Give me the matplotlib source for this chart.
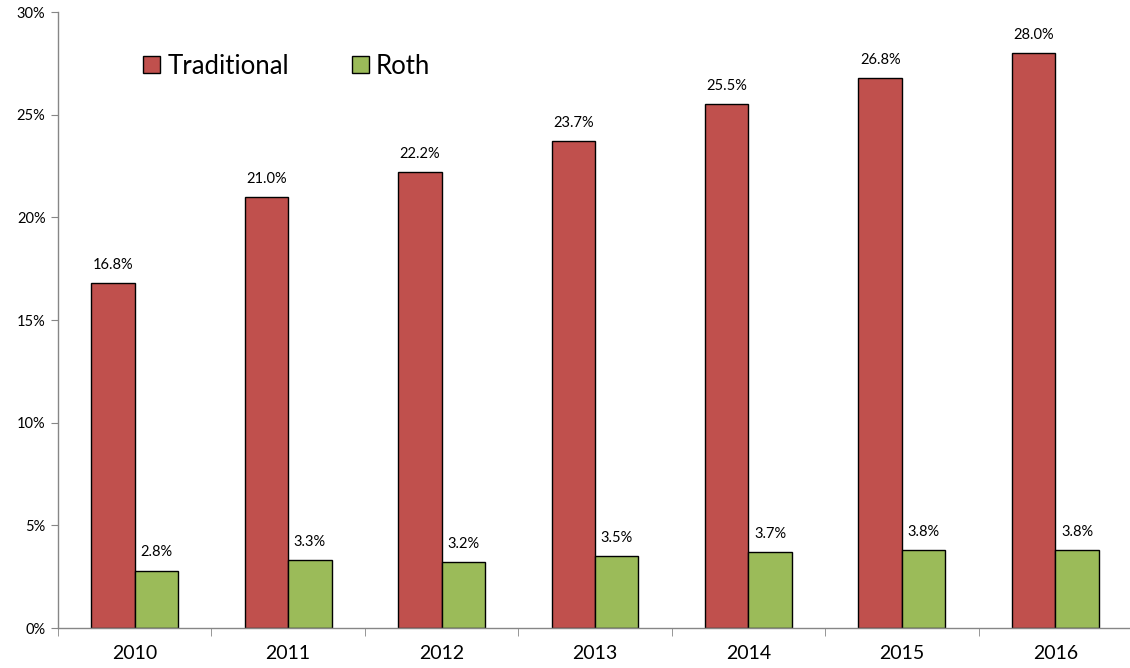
import numpy as np
import matplotlib.pyplot as plt
from matplotlib.ticker import FuncFormatter, FixedLocator

years = ["2010", "2011", "2012", "2013", "2014", "2015", "2016"]
traditional = [16.8, 21.0, 22.2, 23.7, 25.5, 26.8, 28.0]
roth = [2.8, 3.3, 3.2, 3.5, 3.7, 3.8, 3.8]

red = "#C0504D"
green = "#9BBB59"
axis_gray = "#868686"

plt.rcParams['font.family'] = ['Lato', 'DejaVu Sans']

fig = plt.figure(figsize=(11.3, 6.68), dpi=100)
ax = fig.add_axes([58 / 1130, 40 / 668, 1074 / 1130, 616 / 668])

x = np.arange(len(years))
w = 0.283
b1 = ax.bar(x - w / 2, traditional, w, color=red, edgecolor="black", linewidth=1, label="Traditional")
b2 = ax.bar(x + w / 2, roth, w, color=green, edgecolor="black", linewidth=1, label="Roth")

# value labels above each bar
for bars, vals in ((b1, traditional), (b2, roth)):
    for rect, v in zip(bars, vals):
        ax.annotate(f"{v:.1f}%", (rect.get_x() + rect.get_width() / 2, v),
                    xytext=(0, 8), textcoords="offset points",
                    ha="center", va="bottom", fontsize=10.5)

ax.set_xlim(-0.5, len(years) - 0.5)
ax.set_ylim(0, 30)
ax.set_yticks(np.arange(0, 31, 5))
ax.yaxis.set_major_formatter(FuncFormatter(lambda v, p: f"{v:.0f}%"))
ax.set_xticks(x)
ax.set_xticklabels(years, fontsize=14)
# tick marks sit between the year groups
ax.xaxis.set_minor_locator(FixedLocator(np.arange(-0.5, len(years), 1.0)))
ax.tick_params(axis="x", which="major", length=0, pad=12)
ax.tick_params(axis="x", which="minor", length=6, color=axis_gray, direction="out")
ax.tick_params(axis="y", length=5, color=axis_gray, labelsize=10.5, pad=4)

for s in ("top", "right"):
    ax.spines[s].set_visible(False)
for s in ("left", "bottom"):
    ax.spines[s].set_color(axis_gray)
    ax.spines[s].set_linewidth(1)

ax.legend(loc="upper left", bbox_to_anchor=(0.058, 0.97), ncol=2, frameon=False,
          fontsize=18.5, handlelength=0.66, handleheight=0.66, handletextpad=0.27,
          columnspacing=2.45)

fig.savefig("out.png", dpi=100)
